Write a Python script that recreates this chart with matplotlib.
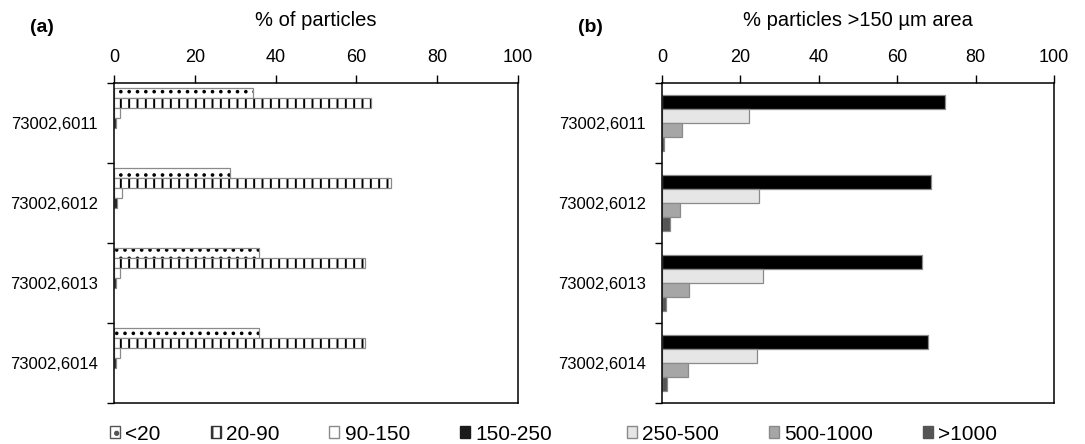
import matplotlib.pyplot as plt
import numpy as np
from matplotlib.patches import Patch

plt.rcParams['font.family'] = ['Liberation Sans', 'DejaVu Sans']
plt.rcParams['hatch.linewidth'] = 1.4

samples = ["73002,6011", "73002,6012", "73002,6013", "73002,6014"]

# (a) % of particles per size class
pct_lt20 = [34.4, 28.7, 36.0, 35.8]
pct_20_90 = [63.7, 68.6, 62.1, 62.2]
pct_90_150 = [1.5, 2.0, 1.5, 1.5]
pct_150_250 = [0.4, 0.7, 0.4, 0.5]

# (b) % of area of particles >150 um
area_150_250 = [72.2, 68.6, 66.3, 67.8]
area_250_500 = [22.2, 24.7, 25.8, 24.2]
area_500_1000 = [5.1, 4.5, 6.9, 6.6]
area_gt1000 = [0.5, 2.0, 1.0, 1.3]

size_labels = ["<20", "20-90", "90-150", "150-250", "250-500", "500-1000", ">1000"]

W, H = 1085, 444
fig = plt.figure(figsize=(W / 100, H / 100), dpi=100)
axL = fig.add_axes([114 / W, 1 - 403 / H, 404 / W, 320 / H])
axR = fig.add_axes([662 / W, 1 - 403 / H, 392 / W, 320 / H])

y = np.arange(len(samples))
edge = "#8a8a8a"

# left panel: 7 slots per group, only the first 4 used
hL = 0.125
left_series = [
    (pct_lt20, "white", ".."),
    (pct_20_90, "white", "||"),
    (pct_90_150, "white", None),
    (pct_150_250, "#1a1a1a", None),
]
for i, (vals, fc, hatch) in enumerate(left_series):
    pos = y + (i - 3) * hL
    if hatch:
        axL.barh(pos, vals, height=hL, color=fc, edgecolor="black", lw=0, hatch=hatch)
        axL.barh(pos, vals, height=hL, fill=False, edgecolor=edge, lw=0.9)
    else:
        axL.barh(pos, vals, height=hL, color=fc, edgecolor=edge, lw=0.9)

# right panel: 4 bars per group
hR = 0.175
right_series = [
    (area_150_250, "black"),
    (area_250_500, "#e6e6e6"),
    (area_500_1000, "#a6a6a6"),
    (area_gt1000, "#555555"),
]
for i, (vals, fc) in enumerate(right_series):
    axR.barh(y + (i - 1.5) * hR, vals, height=hR, color=fc, edgecolor=edge, lw=0.9)

for ax in (axL, axR):
    ax.set_xlim(0, 100)
    ax.set_ylim(3.5, -0.5)
    ax.xaxis.tick_top()
    ax.set_xticks(np.arange(0, 101, 20))
    ax.tick_params(axis="x", direction="out", length=6, width=1, labelsize=13, pad=6)
    ax.set_yticks(y)
    ax.set_yticklabels(samples)
    ax.set_yticks(np.arange(-0.5, 4, 1), minor=True)
    ax.tick_params(axis="y", which="major", length=0, labelsize=12, pad=11.5)
    ax.tick_params(axis="y", which="minor", direction="out", length=5, width=1)
    for s in ax.spines.values():
        s.set_linewidth(1.1)
        s.set_color("black")

fig.text((114 + 518) / 2 / W, 1 - 20 / H, "% of particles", ha="center", va="center", fontsize=14.5)
fig.text((662 + 1054) / 2 / W, 1 - 20 / H, "% particles >150 µm area", ha="center", va="center", fontsize=14.5)
fig.text(42 / W, 1 - 27 / H, "(a)", ha="center", va="center", fontsize=14, fontweight="bold")
fig.text(590 / W, 1 - 27 / H, "(b)", ha="center", va="center", fontsize=14, fontweight="bold")

handles = [
    Patch(facecolor="white", edgecolor="#555555", hatch="."),
    Patch(facecolor="white", edgecolor="#333333", hatch="||"),
    Patch(facecolor="white", edgecolor=edge),
    Patch(facecolor="#1a1a1a", edgecolor="#1a1a1a"),
    Patch(facecolor="#e6e6e6", edgecolor=edge),
    Patch(facecolor="#a6a6a6", edgecolor=edge),
    Patch(facecolor="#555555", edgecolor="#555555"),
]
leg_kw = dict(frameon=False, fontsize=15, handlelength=0.48, handleheight=0.48,
              handletextpad=0.25, columnspacing=2.4, borderpad=0, borderaxespad=0,
              loc="center left")
fig.legend(handles[:4], size_labels[:4], ncol=4, bbox_to_anchor=(110 / W, 1 - 434 / H), **leg_kw)
fig.legend(handles[4:], size_labels[4:], ncol=3, bbox_to_anchor=(627 / W, 1 - 434 / H), **leg_kw)

fig.savefig("out.png", dpi=100)
